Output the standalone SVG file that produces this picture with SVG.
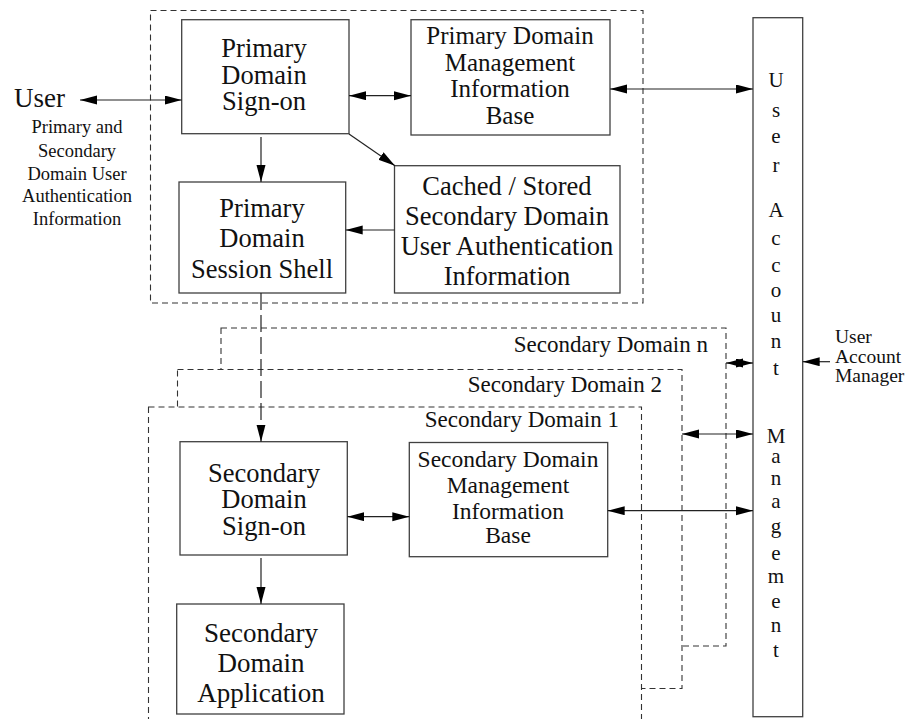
<svg xmlns="http://www.w3.org/2000/svg" width="909" height="719" viewBox="0 0 909 719">
<defs>
<marker id="ah" markerUnits="userSpaceOnUse" markerWidth="18" markerHeight="10" refX="17" refY="4.5" orient="auto-start-reverse">
<path d="M0,0 L17,4.5 L0,9 z" fill="#000"/>
</marker>
<style>
.box{fill:#fff;stroke:#404040;stroke-width:1.3}
.dom{fill:#fff;stroke:#333;stroke-width:1.1;stroke-dasharray:6 4}
.t{font-family:"Liberation Serif","Times New Roman",serif;fill:#111;text-anchor:middle}
.l{font-family:"Liberation Serif","Times New Roman",serif;fill:#111}
.c{fill:none;stroke:#222;stroke-width:1.2}
.c2{marker-start:url(#ah);marker-end:url(#ah)}
.c1{marker-end:url(#ah)}
</style>
</defs>
<rect width="909" height="719" fill="#fff"/>

<g id="secondary-domain-n">
<rect class="dom" x="221" y="328" width="505" height="318"/>
<text class="l" x="708" y="352" font-size="23" text-anchor="end">Secondary Domain n</text>
</g>
<g id="secondary-domain-2">
<rect class="dom" x="177.5" y="369.5" width="504.5" height="319"/>
<text class="l" x="662" y="392" font-size="23" text-anchor="end">Secondary Domain 2</text>
</g>
<g id="secondary-domain-1">
<rect class="dom" x="148.5" y="407" width="493" height="330"/>
<text class="l" x="619" y="427" font-size="23" text-anchor="end">Secondary Domain 1</text>
</g>
<g id="primary-domain">
<rect class="dom" x="150.5" y="10.5" width="492.5" height="292.5" style="fill:none"/>
</g>

<g id="user">
<text class="l" x="14" y="107" font-size="27">User</text>
<g class="t" font-size="18.5">
<text x="77" y="133">Primary and</text>
<text x="77" y="157">Secondary</text>
<text x="77" y="180">Domain User</text>
<text x="77" y="202">Authentication</text>
<text x="77" y="225">Information</text>
</g>
</g>

<g id="primary-sign-on">
<rect class="box" x="181.7" y="19.7" width="167.3" height="114"/>
<g class="t" font-size="26.5"><text x="264" y="57">Primary</text><text x="264" y="84">Domain</text><text x="264" y="110">Sign-on</text></g>
</g>
<g id="primary-mib">
<rect class="box" x="411" y="19.7" width="199" height="115.3"/>
<g class="t" font-size="25"><text x="510" y="44">Primary Domain</text><text x="510" y="71">Management</text><text x="510" y="97">Information</text><text x="510" y="124">Base</text></g>
</g>
<g id="primary-session-shell">
<rect class="box" x="179" y="182" width="166.7" height="111"/>
<g class="t" font-size="26.5"><text x="262" y="217">Primary</text><text x="262" y="247">Domain</text><text x="262" y="278">Session Shell</text></g>
</g>
<g id="cached-auth">
<rect class="box" x="394.5" y="165.7" width="225.5" height="127.3"/>
<g class="t" font-size="26.5"><text x="507" y="195">Cached / Stored</text><text x="507" y="225">Secondary Domain</text><text x="507" y="255">User Authentication</text><text x="507" y="285">Information</text></g>
</g>

<g id="secondary-sign-on">
<rect class="box" x="180" y="441.7" width="167.3" height="113.3"/>
<g class="t" font-size="26.5"><text x="264" y="482">Secondary</text><text x="264" y="508">Domain</text><text x="264" y="535">Sign-on</text></g>
</g>
<g id="secondary-mib">
<rect class="box" x="409.3" y="442.5" width="198.4" height="114.2"/>
<g class="t" font-size="23.5"><text x="508" y="467">Secondary Domain</text><text x="508" y="493">Management</text><text x="508" y="519">Information</text><text x="508" y="543">Base</text></g>
</g>
<g id="secondary-application">
<rect class="box" x="176.7" y="604" width="167.3" height="110"/>
<g class="t" font-size="27"><text x="261" y="642">Secondary</text><text x="261" y="672">Domain</text><text x="261" y="702">Application</text></g>
</g>

<g id="user-account-management">
<rect class="box" x="753" y="17.7" width="49.7" height="699"/>
<g class="t" font-size="21">
<text x="776" y="87">U</text><text x="776" y="117">s</text><text x="776" y="143">e</text><text x="776" y="172">r</text>
<text x="776" y="217">A</text><text x="776" y="245">c</text><text x="776" y="272">c</text><text x="776" y="297">o</text><text x="776" y="322">u</text><text x="776" y="348">n</text><text x="776" y="375">t</text>
<text x="776" y="443">M</text><text x="776" y="463">a</text><text x="776" y="485">n</text><text x="776" y="508">a</text><text x="776" y="533">g</text><text x="776" y="560">e</text><text x="776" y="583">m</text><text x="776" y="608">e</text><text x="776" y="632">n</text><text x="776" y="657">t</text>
</g>
</g>
<g id="user-account-manager">
<g class="l" font-size="19.5"><text x="835" y="343">User</text><text x="835" y="363">Account</text><text x="835" y="382">Manager</text></g>
</g>

<g id="connectors">
<line class="c c2" x1="80" y1="100" x2="181.7" y2="100"/>
<line class="c c2" x1="349" y1="95.7" x2="411" y2="95.7"/>
<line class="c c2" x1="610" y1="89" x2="753" y2="89"/>
<line class="c c1" x1="261" y1="137" x2="261" y2="182"/>
<line class="c c1" x1="349" y1="134" x2="395" y2="165.7"/>
<line class="c c1" x1="394.5" y1="230" x2="345.7" y2="230"/>
<line class="c c1" x1="261" y1="293" x2="261" y2="441.7" stroke-dasharray="17 5"/>
<line class="c c2" x1="726" y1="363" x2="753" y2="363"/>
<line class="c c2" x1="682" y1="434" x2="753" y2="434"/>
<line class="c c2" x1="607.7" y1="510.7" x2="753" y2="510.7"/>
<line class="c c2" x1="347.3" y1="516.7" x2="409.3" y2="516.7"/>
<line class="c c1" x1="261" y1="558" x2="261" y2="604"/>
<line class="c c1" x1="830" y1="361.7" x2="802.7" y2="361.7"/>
</g>
</svg>
